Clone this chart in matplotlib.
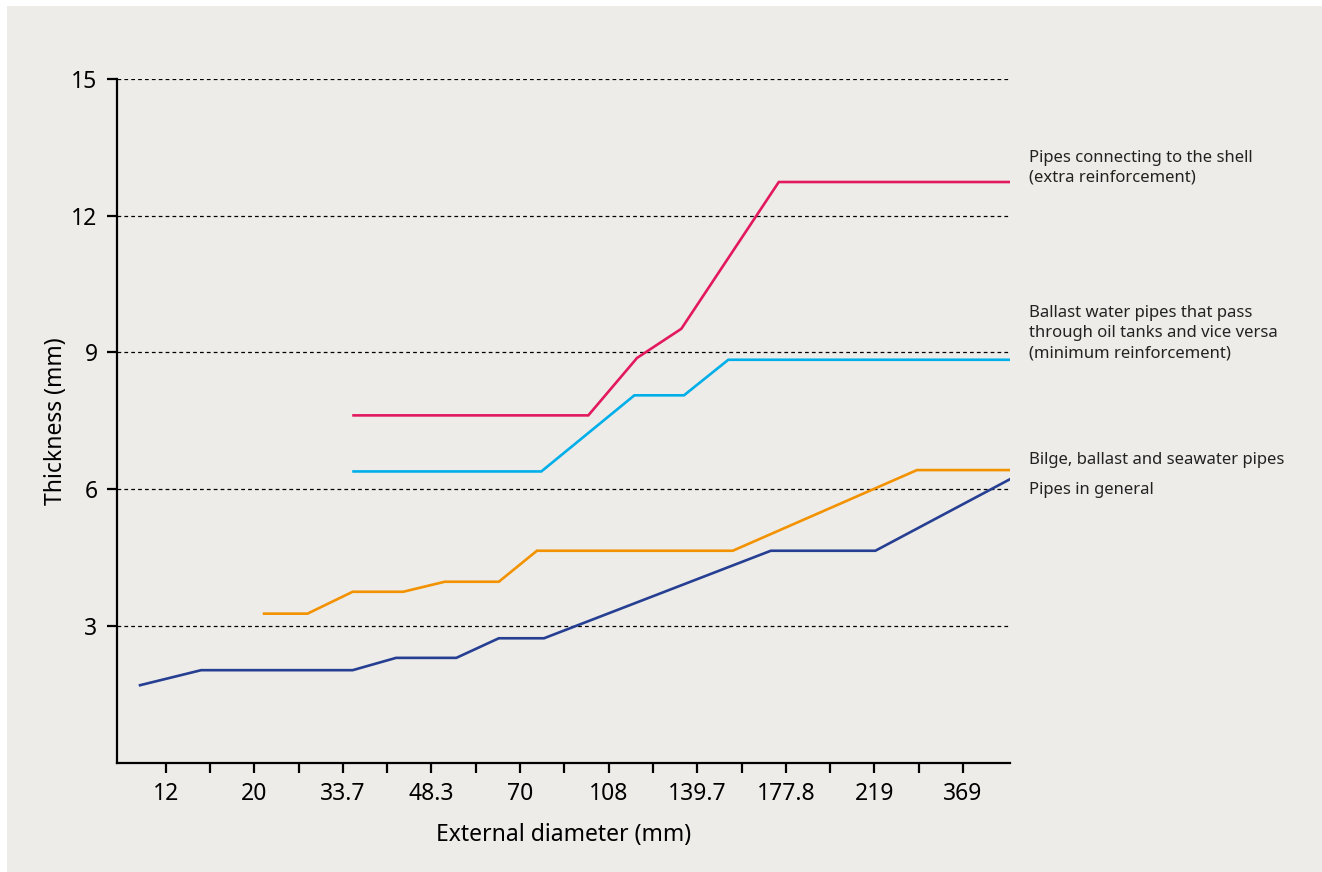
import matplotlib.pyplot as plt
from matplotlib.patches import Rectangle

plt.rcParams['font.family'] = ['Noto Sans', 'DejaVu Sans']

# x positions are in "label slots": 0 -> 12 mm, 1 -> 20 mm, ... 9 -> 369 mm
tick_labels = ["12", "20", "33.7", "48.3", "70", "108", "139.7", "177.8", "219", "369"]

# Pipes in general
general_x = [-0.29, 0.40, 2.11, 2.60, 3.28, 3.76, 4.27, 6.83, 8.01, 9.53]
general_y = [1.7, 2.03, 2.03, 2.3, 2.3, 2.73, 2.73, 4.65, 4.65, 6.22]

# Bilge, ballast and seawater pipes
bilge_x = [1.11, 1.60, 2.11, 2.68, 3.15, 3.76, 4.19, 6.40, 8.48, 9.53]
bilge_y = [3.27, 3.27, 3.75, 3.75, 3.97, 3.97, 4.65, 4.65, 6.42, 6.42]

# Ballast water pipes through oil tanks
ballast_x = [2.12, 4.24, 5.29, 5.85, 6.35, 9.53]
ballast_y = [6.39, 6.39, 8.06, 8.06, 8.84, 8.84]

# Pipes connecting to the shell
shell_x = [2.12, 4.77, 5.32, 5.82, 6.92, 9.53]
shell_y = [7.62, 7.62, 8.88, 9.52, 12.74, 12.74]

series = [
    (general_x, general_y, "#263f92", "Pipes in general", 5.98),
    (bilge_x, bilge_y, "#f39200", "Bilge, ballast and seawater pipes", 6.64),
    (ballast_x, ballast_y, "#00afe9", "Ballast water pipes that pass\nthrough oil tanks and vice versa\n(minimum reinforcement)", 9.43),
    (shell_x, shell_y, "#e3195f", "Pipes connecting to the shell\n(extra reinforcement)", 13.05),
]

bg = "#edece8"
fig = plt.figure(figsize=(13.22, 8.72), dpi=100, facecolor="white")
fig.patches.append(Rectangle((7 / 1322, 0), 1, 1 - 6 / 872, transform=fig.transFigure,
                             facecolor=bg, edgecolor="none", zorder=-1))
ax = fig.add_axes([117 / 1322, 1 - 762.7 / 872, (1010 - 117) / 1322, (762.7 - 79) / 872])
ax.set_facecolor(bg)

for yv in [3, 6, 9, 12, 15]:
    ax.axhline(yv, color="black", lw=0.9, ls=(0, (3, 2.5)), zorder=1)

for xs, ys, color, label, ty in series:
    ax.plot(xs, ys, color=color, lw=1.9, zorder=3, solid_joinstyle="miter")
    ax.annotate(label, xy=(1.0, ty), xycoords=("axes fraction", "data"),
                xytext=(14, 0), textcoords="offset points",
                ha="left", va="center", fontsize=12, color="#222222",
                linespacing=1.35, annotation_clip=False)

ax.set_xlim(-0.55, 9.53)
ax.set_ylim(0, 15)
ax.set_xticks([i * 0.5 for i in range(19)])
ax.set_xticklabels([tick_labels[i // 2] if i % 2 == 0 else "" for i in range(19)])
ax.set_yticks([3, 6, 9, 12, 15])

for side in ["top", "right"]:
    ax.spines[side].set_visible(False)
for side in ["left", "bottom"]:
    ax.spines[side].set_linewidth(1.6)
ax.tick_params(axis="both", direction="out", length=7, width=1.6, labelsize=16.5,
               colors="black", pad=7)

ax.set_xlabel("External diameter (mm)", fontsize=16.5, labelpad=12)
ax.set_ylabel("Thickness (mm)", fontsize=16.5, labelpad=2)

fig.savefig("out.png", dpi=100, facecolor=fig.get_facecolor())
